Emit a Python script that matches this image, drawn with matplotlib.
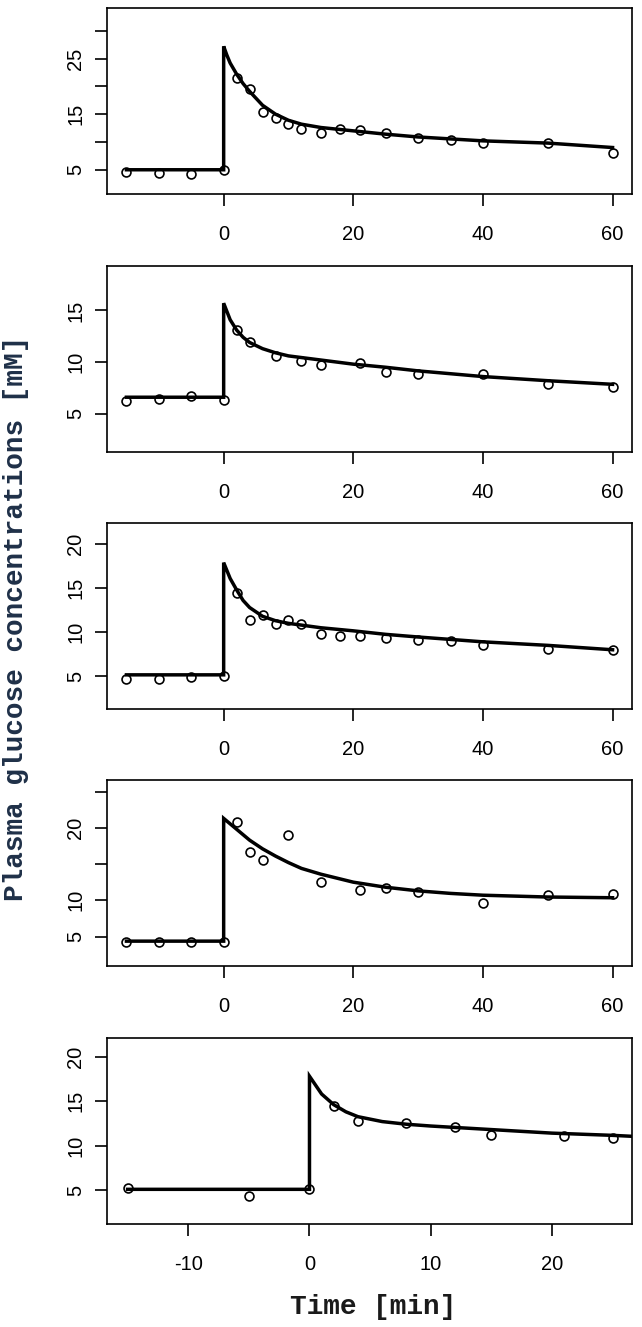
import matplotlib
matplotlib.use('Agg')
import matplotlib.pyplot as plt

# ---------------- data ----------------
obs_t1 = [-15, -10, -5, 0, 2, 4, 6, 8, 10, 12, 15, 18, 21, 25, 30, 35, 40, 50, 60]
obs_y1 = [4.64, 4.5, 4.16, 5.0, 21.5, 19.6, 15.4, 14.4, 13.3, 12.4, 11.7, 12.3, 12.1, 11.6, 10.7, 10.4, 9.9, 9.9, 8.0]
fit_t1 = [-15, 0, 0, 0.5, 1, 2, 3, 4, 6, 8, 10, 12, 15, 20, 25, 30, 40, 50, 60]
fit_y1 = [5.0, 5.0, 27.2, 25.6, 24.2, 22.2, 20.5, 19.1, 16.6, 15.0, 13.9, 13.2, 12.6, 12.0, 11.4, 10.9, 10.2, 9.8, 9.0]

obs_t2 = [-15, -10, -5, 0, 2, 4, 8, 12, 15, 21, 25, 30, 40, 50, 60]
obs_y2 = [6.27, 6.47, 6.73, 6.3, 13.1, 11.9, 10.6, 10.1, 9.7, 9.9, 9.0, 8.8, 8.8, 7.9, 7.6]
fit_t2 = [-15, 0, 0, 1, 2, 3, 4, 6, 8, 10, 15, 20, 25, 30, 40, 50, 60]
fit_y2 = [6.6, 6.6, 15.7, 14.1, 13.1, 12.4, 11.9, 11.3, 10.9, 10.6, 10.2, 9.8, 9.5, 9.15, 8.6, 8.2, 7.85]

obs_t3 = [-15, -10, -5, 0, 2, 4, 6, 8, 10, 12, 15, 18, 21, 25, 30, 35, 40, 50, 60]
obs_y3 = [4.7, 4.7, 4.9, 5.0, 14.4, 11.4, 11.9, 10.9, 11.4, 10.9, 9.8, 9.6, 9.6, 9.3, 9.15, 8.95, 8.5, 8.1, 8.0]
fit_t3 = [-15, 0, 0, 1, 2, 3, 4, 6, 8, 10, 15, 20, 25, 30, 40, 50, 60]
fit_y3 = [5.15, 5.15, 17.9, 16.1, 14.8, 13.6, 12.8, 11.8, 11.3, 11.0, 10.5, 10.15, 9.75, 9.45, 8.9, 8.5, 8.0]

obs_t4 = [-15, -10, -5, 0, 2, 4, 6, 10, 15, 21, 25, 30, 40, 50, 60]
obs_y4 = [4.18, 4.18, 4.18, 4.18, 20.8, 16.7, 15.6, 19.0, 12.5, 11.45, 11.7, 11.1, 9.6, 10.7, 10.8]
fit_t4 = [-15, 0, 0, 2, 4, 6, 8, 10, 12, 15, 20, 25, 30, 35, 40, 50, 60]
fit_y4 = [4.36, 4.36, 21.3, 19.8, 18.3, 17.1, 16.1, 15.2, 14.4, 13.6, 12.5, 11.8, 11.3, 10.95, 10.7, 10.45, 10.35]

obs_t5 = [-15, -5, 0, 2, 4, 8, 12, 15, 21, 25]
obs_y5 = [5.27, 4.3, 5.15, 14.4, 12.8, 12.5, 12.1, 11.2, 11.1, 10.9]
fit_t5 = [-15, 0, 0, 1, 2, 3, 4, 6, 8, 10, 15, 20, 25, 28]
fit_y5 = [5.08, 5.08, 17.8, 15.8, 14.6, 13.8, 13.25, 12.7, 12.4, 12.2, 11.8, 11.4, 11.15, 10.95]

yticks1, ylabels1 = [5, 10, 15, 20, 25, 30], ['5', '', '15', '', '25', '']
yticks2, ylabels2 = [5, 10, 15], ['5', '10', '15']
yticks3, ylabels3 = [5, 10, 15, 20], ['5', '10', '15', '20']
yticks4, ylabels4 = [5, 10, 15, 20, 25], ['5', '10', '', '20', '']
yticks5, ylabels5 = [5, 10, 15, 20], ['5', '10', '15', '20']
xticks_a = [0, 20, 40, 60]
xticks_b = [-10, 0, 10, 20]

panels = [
    (obs_t1, obs_y1, fit_t1, fit_y1, yticks1, ylabels1, xticks_a, (-18, 63), (0.64, 34.1)),
    (obs_t2, obs_y2, fit_t2, fit_y2, yticks2, ylabels2, xticks_a, (-18, 63), (1.3, 19.3)),
    (obs_t3, obs_y3, fit_t3, fit_y3, yticks3, ylabels3, xticks_a, (-18, 63), (1.27, 22.4)),
    (obs_t4, obs_y4, fit_t4, fit_y4, yticks4, ylabels4, xticks_a, (-18, 63), (0.93, 26.6)),
    (obs_t5, obs_y5, fit_t5, fit_y5, yticks5, ylabels5, xticks_b, (-16.7, 26.6), (1.18, 22.1)),
]

W, H = 642, 1327
fig = plt.figure(figsize=(W / 100, H / 100), dpi=100)
fig.patch.set_facecolor('white')

left_px, right_px = 107, 632
tops = [8, 266, 523, 780, 1038]
height_px = 186

for i, (ot, oy, ft, fy, yt, yl, xt, xlim, ylim) in enumerate(panels):
    top = tops[i]
    ax = fig.add_axes([left_px / W, 1 - (top + height_px) / H,
                       (right_px - left_px) / W, height_px / H])
    ax.plot(ft, fy, color='black', lw=2.5, solid_joinstyle='miter', zorder=3)
    ax.plot(ot, oy, linestyle='none', marker='o', markersize=6.4,
            markerfacecolor='none', markeredgecolor='black', markeredgewidth=1.2, zorder=4)
    ax.set_xlim(*xlim)
    ax.set_ylim(*ylim)
    ax.set_xticks(xt)
    ax.set_xticklabels([str(v) for v in xt])
    ax.set_yticks(yt)
    ax.set_yticklabels(yl)
    for s in ax.spines.values():
        s.set_linewidth(1.2)
    ax.tick_params(axis='both', direction='out', length=8.6, width=1.2,
                   labelsize=14.5, colors='black')
    ax.tick_params(axis='x', pad=14)
    ax.tick_params(axis='y', pad=7)
    for lab in ax.get_xticklabels() + ax.get_yticklabels():
        lab.set_fontfamily('Liberation Sans')
    for lab in ax.get_yticklabels():
        lab.set_rotation(90)
        lab.set_va('center')

fig.text(16 / W, 1 - 618 / H, 'Plasma glucose concentrations [mM]', rotation=90,
         ha='center', va='center', fontsize=20, fontweight='bold',
         family='Liberation Mono', color='#1f3048')
fig.text((left_px + right_px) / 2 / W + 0.006, 1 - 1307 / H, 'Time [min]',
         ha='center', va='center', fontsize=20, fontweight='bold',
         family='Liberation Mono', color='#1a1a1a')

fig.savefig('out.png', dpi=100, facecolor='white')
